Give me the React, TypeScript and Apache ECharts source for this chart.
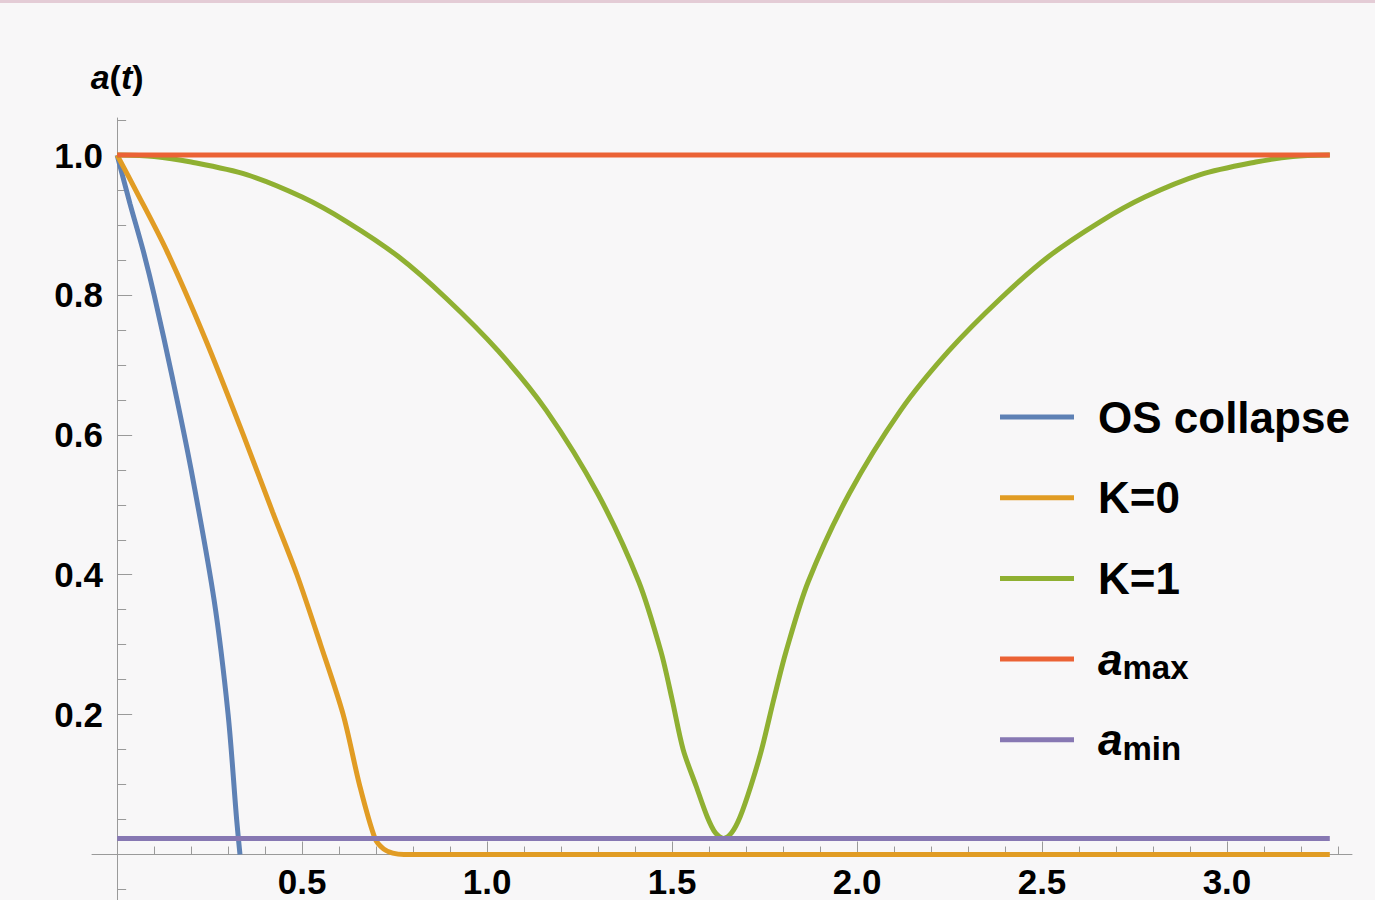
import React, { useEffect, useRef } from "react";
import * as echarts from "echarts";

// ---- data (t, a) ----
const blueT = [0, 0.035, 0.07, 0.1, 0.15, 0.2, 0.262, 0.3, 0.323, 0.332];
const blueA = [1, 0.93, 0.864, 0.8, 0.68, 0.55, 0.364, 0.2, 0.05, 0];

const orangeT = [0, 0.05, 0.135, 0.24, 0.341, 0.42, 0.486, 0.55, 0.611, 0.655, 0.697, 0.72, 0.745, 0.775, 3.278];
const orangeA = [1, 0.95, 0.862, 0.735, 0.6, 0.49, 0.4, 0.3, 0.2, 0.1, 0.023, 0.008, 0.002, 0, 0];

const greenT = [0, 0.1, 0.2, 0.35, 0.5, 0.62, 0.76, 0.89, 1.03, 1.16, 1.3, 1.41, 1.47, 1.5, 1.53, 1.565, 1.595, 1.617, 1.639, 1.661, 1.684, 1.713, 1.742, 1.775, 1.808, 1.868, 1.978, 2.118, 2.248, 2.388, 2.518, 2.658, 2.778, 2.928, 3.078, 3.178, 3.278];
const greenA = [1, 0.998, 0.99, 0.972, 0.94, 0.905, 0.855, 0.795, 0.72, 0.635, 0.515, 0.39, 0.29, 0.222, 0.15, 0.098, 0.054, 0.031, 0.023, 0.031, 0.054, 0.098, 0.15, 0.222, 0.29, 0.39, 0.515, 0.635, 0.72, 0.795, 0.855, 0.905, 0.94, 0.972, 0.99, 0.998, 1];

const maxT = [0, 3.278];
const maxA = [1, 1];

const minT = [0, 3.278];
const minA = [0.023, 0.023];

// ---- ticks ----
const xMajorTicks = [0.5, 1.0, 1.5, 2.0, 2.5, 3.0];
const xMinorTicks = [0.1, 0.2, 0.3, 0.4, 0.6, 0.7, 0.8, 0.9, 1.1, 1.2, 1.3, 1.4, 1.6, 1.7, 1.8, 1.9, 2.1, 2.2, 2.3, 2.4, 2.6, 2.7, 2.8, 2.9, 3.1, 3.2, 3.3];
const yMajorTicks = [0.2, 0.4, 0.6, 0.8, 1.0];
const yMinorTicks = [-0.05, 0.05, 0.1, 0.15, 0.25, 0.3, 0.35, 0.45, 0.5, 0.55, 0.65, 0.7, 0.75, 0.85, 0.9, 0.95, 1.05];

const seriesNames = ["OS collapse", "K=0", "K=1", "amax", "amin"];
const seriesColors = ["#5E81B5", "#E19C24", "#8FB032", "#EB6235", "#8778B3"];

const FONT = "'Liberation Sans', Arial, Helvetica, sans-serif";
const AXIS_COLOR = "#9a9a9a";

const zip = (t: number[], a: number[]) => t.map((v, i) => [v, a[i]]);

export default function App() {
  const ref = useRef<HTMLDivElement>(null);
  useEffect(() => {
    if (!ref.current) return;
    const chart = echarts.init(ref.current, null, { renderer: "svg" });
    const datasets = [zip(blueT, blueA), zip(orangeT, orangeA), zip(greenT, greenA), zip(maxT, maxA), zip(minT, minA)];
    const xCommon = { type: "value", min: -0.068, max: 3.338, position: "bottom", splitLine: { show: false } };
    const yCommon = { type: "value", min: -0.065, max: 1.053, position: "left", splitLine: { show: false } };
    const lineStyle = { color: AXIS_COLOR, width: 1 };
    chart.setOption({
      animation: false,
      backgroundColor: "#f8f7f8",
      textStyle: { fontFamily: FONT },
      grid: { left: 92, top: 118, width: 1260, height: 782, containLabel: false, outerBoundsMode: "none" },
      xAxis: [
        {
          ...xCommon,
          axisLine: { show: true, onZero: true, lineStyle },
          axisTick: { show: true, inside: true, length: 13, customValues: xMajorTicks, lineStyle },
          axisLabel: {
            show: true,
            customValues: xMajorTicks,
            formatter: (v: number) => v.toFixed(1),
            margin: -36,
            fontSize: 35,
            lineHeight: 35,
            fontWeight: "bold",
            color: "#000",
            fontFamily: FONT,
          },
        },
        {
          ...xCommon,
          axisLine: { show: false, onZero: true },
          axisTick: { show: true, inside: true, length: 8, customValues: xMinorTicks, lineStyle },
          axisLabel: { show: false },
        },
      ],
      yAxis: [
        {
          ...yCommon,
          name: "{i|a}{n|(}{i|t}{n|)}",
          nameLocation: "end",
          nameGap: 41,
          nameTextStyle: {
            align: "center",
            verticalAlign: "middle",
            rich: {
              i: { fontSize: 34, fontWeight: "bold", fontStyle: "italic", color: "#000", fontFamily: FONT },
              n: { fontSize: 34, fontWeight: "bold", color: "#000", fontFamily: FONT },
            },
          },
          axisLine: { show: true, onZero: true, lineStyle },
          axisTick: { show: true, inside: true, length: 15, customValues: yMajorTicks, lineStyle },
          axisLabel: {
            show: true,
            customValues: yMajorTicks,
            formatter: (v: number) => v.toFixed(1),
            margin: -11,
            fontSize: 35,
            fontWeight: "bold",
            color: "#000",
            fontFamily: FONT,
          },
        },
        {
          ...yCommon,
          axisLine: { show: false, onZero: true },
          axisTick: { show: true, inside: true, length: 9, customValues: yMinorTicks, lineStyle },
          axisLabel: { show: false },
        },
      ],
      legend: {
        orient: "vertical",
        left: 1000,
        top: 392,
        padding: 0,
        itemWidth: 74,
        itemHeight: 5,
        itemGap: 30.7,
        icon: "rect",
        selectedMode: false,
        data: seriesNames,
        formatter: (name: string) => {
          if (name === "amax") return "{i|a}{s|max}";
          if (name === "amin") return "{i|a}{s|min}";
          return "{n|" + name + "}";
        },
        textStyle: {
          padding: [0, 0, 0, 19],
          lineHeight: 50,
          height: 50,
          rich: {
            n: { fontSize: 44, fontWeight: "bold", color: "#000", lineHeight: 50, verticalAlign: "middle", fontFamily: FONT },
            i: { fontSize: 44, fontWeight: "bold", fontStyle: "italic", color: "#000", lineHeight: 50, verticalAlign: "middle", fontFamily: FONT },
            s: { fontSize: 33, fontWeight: "bold", color: "#000", lineHeight: 20, verticalAlign: "bottom", fontFamily: FONT },
          },
        },
      },
      series: seriesNames.map((name, i) => ({
        name,
        type: "line",
        xAxisIndex: 0,
        yAxisIndex: 0,
        data: datasets[i],
        showSymbol: false,
        symbol: "none",
        smooth: 0.3,
        color: seriesColors[i],
        lineStyle: { color: seriesColors[i], width: 5 },
        z: 2 + i,
      })),
    });
    return () => chart.dispose();
  }, []);
  return (
    <div style={{ position: "absolute", left: 0, top: 0, width: 1375, height: 900, overflow: "hidden" }}>
      <div ref={ref} style={{ position: "absolute", left: 0, top: 0, width: 1375, height: 900 }} />
      <div style={{ position: "absolute", left: 0, top: 0, width: 1375, height: 3, background: "#e4ccd6" }} />
    </div>
  );
}
